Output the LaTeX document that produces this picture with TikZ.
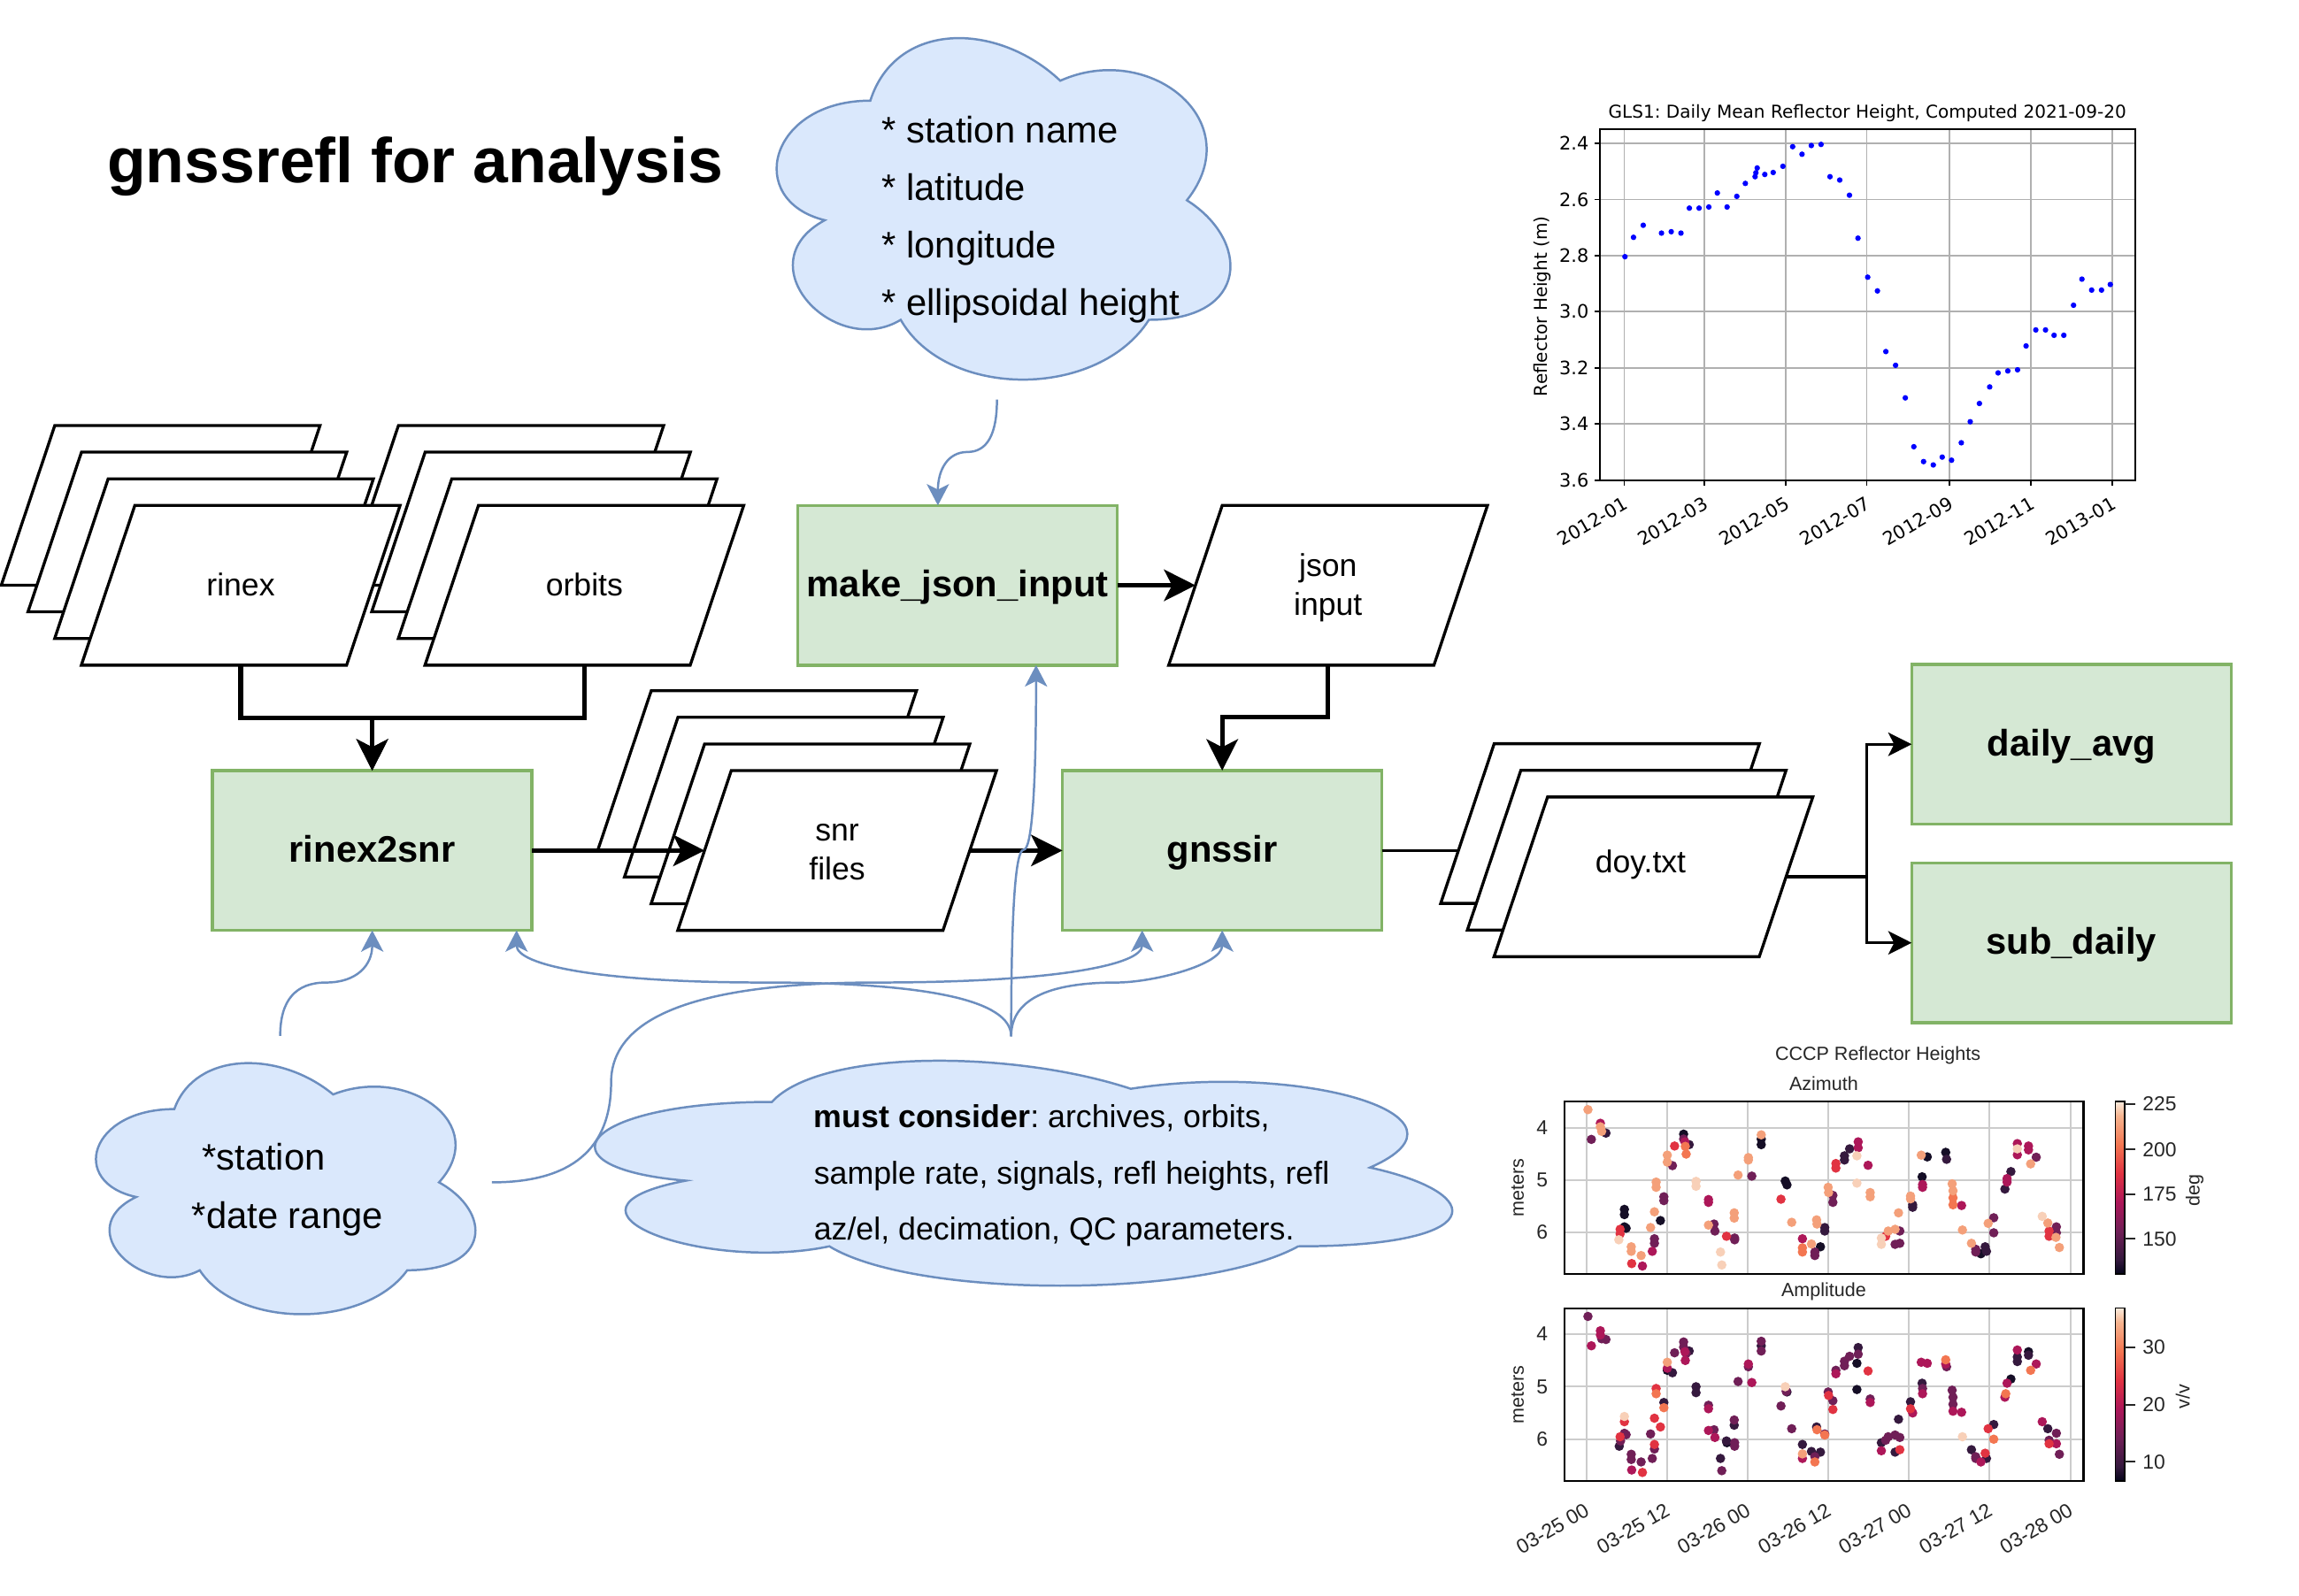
\documentclass[tikz,border=0pt]{standalone}
\usepackage{fontspec}
\setmainfont{Liberation Sans}
\newfontfamily\djv{DejaVu Sans}
\usetikzlibrary{arrows.meta}
\frenchspacing
\definecolor{gfill}{HTML}{D5E8D4}
\definecolor{gdraw}{HTML}{82B366}
\definecolor{bfill}{HTML}{DAE8FC}
\definecolor{bdraw}{HTML}{6C8EBF}
\definecolor{rk0}{HTML}{03051A}
\definecolor{rk1}{HTML}{35193E}
\definecolor{rk2}{HTML}{701F57}
\definecolor{rk3}{HTML}{AD1759}
\definecolor{rk4}{HTML}{E13342}
\definecolor{rk5}{HTML}{F37651}
\definecolor{rk6}{HTML}{F6B48F}
\definecolor{rk7}{HTML}{FAEBDD}
\definecolor{dL0}{HTML}{150E26}
\definecolor{dL1}{HTML}{35193E}
\definecolor{dL2}{HTML}{701F57}
\definecolor{dL3}{HTML}{AD1759}
\definecolor{dL4}{HTML}{E13342}
\definecolor{dL5}{HTML}{F37651}
\definecolor{dL6}{HTML}{F4A07A}
\definecolor{dL7}{HTML}{F8D0B8}
\definecolor{gridA}{HTML}{B0B0B0}
\definecolor{gridB}{HTML}{CCCCCC}
\definecolor{tickB}{HTML}{262626}
\pgfdeclareverticalshading{rocket}{100bp}{color(0bp)=(rk0); color(25bp)=(rk0); color(29.17bp)=(rk1); color(37.5bp)=(rk2); color(45.83bp)=(rk3); color(54.17bp)=(rk4); color(62.5bp)=(rk5); color(70.83bp)=(rk6); color(75bp)=(rk7); color(100bp)=(rk7)}
\newcommand\parashape[2]{\draw[para] (#1,#2) -- ++(181,0) -- ++(-36.5,109) -- ++(-181,0) -- cycle;}
\newcommand\mycloud[4]{%
\draw[cloudst] ({#1+0.25*#3},{#2+0.25*#4})
 .. controls ({#1+0.05*#3},{#2+0.25*#4}) and ({#1},{#2+0.5*#4}) .. ({#1+0.16*#3},{#2+0.55*#4})
 .. controls ({#1},{#2+0.66*#4}) and ({#1+0.18*#3},{#2+0.9*#4}) .. ({#1+0.31*#3},{#2+0.8*#4})
 .. controls ({#1+0.4*#3},{#2+#4}) and ({#1+0.7*#3},{#2+#4}) .. ({#1+0.8*#3},{#2+0.8*#4})
 .. controls ({#1+#3},{#2+0.8*#4}) and ({#1+#3},{#2+0.6*#4}) .. ({#1+0.875*#3},{#2+0.5*#4})
 .. controls ({#1+#3},{#2+0.3*#4}) and ({#1+0.8*#3},{#2+0.1*#4}) .. ({#1+0.625*#3},{#2+0.2*#4})
 .. controls ({#1+0.5*#3},{#2+0.05*#4}) and ({#1+0.3*#3},{#2+0.05*#4}) .. ({#1+0.25*#3},{#2+0.25*#4}) -- cycle;}
\newcommand\bdots[2]{\foreach \a/\b in {#2} {\fill[#1] ({1014.49+\a*0.29272},{706.52+\b*0.23878}) circle[radius=3.2];}}
\begin{document}
\begin{tikzpicture}[x=0.5pt,y=-0.5pt,
 para/.style={draw=black, fill=white, line width=1pt, line join=miter},
 proc/.style={draw=gdraw, fill=gfill, line width=1pt, minimum width=109pt, minimum height=54.5pt, inner sep=0pt, outer sep=0pt, text height=10.6pt, text depth=2.6pt, font=\bfseries\fontsize{12.6}{15}\selectfont},
 thk/.style={line width=1.6pt, line join=miter, -{Stealth[length=10.7pt,width=10.7pt,inset=2.7pt]}},
 thinline/.style={line width=1pt},
 thn/.style={line width=1pt, line join=miter, -{Stealth[length=8pt,width=8pt,inset=2pt]}},
 blu/.style={draw=bdraw, line width=0.75pt, -{Stealth[length=7.3pt,width=7.6pt,inset=1.9pt]}},
 cloudst/.style={draw=bdraw, fill=bfill, line width=0.75pt},
 lbl/.style={font=\fontsize{10.75}{13}\selectfont, inner sep=0pt, anchor=base},
 ctext/.style={font=\fontsize{12.6}{15}\selectfont, inner sep=0pt, anchor=base west},
 ctextb/.style={font=\fontsize{10.8}{13}\selectfont, inner sep=0pt, anchor=base west},
 ta/.style={font=\djv\fontsize{6.05}{7}\selectfont, inner sep=0pt},
 tat/.style={font=\djv\fontsize{6.3}{7.5}\selectfont, inner sep=0pt},
 tbl/.style={font=\fontsize{6.5}{8}\selectfont, inner sep=0pt, text=tickB},
 tbt/.style={font=\fontsize{6.9}{8}\selectfont, inner sep=0pt, text=tickB}
]
\useasboundingbox (0,0) rectangle (1568.8,1088.75);
\fill[white] (0,0) rectangle (1568.8,1088.75);

% ---------- title ----------
\node[anchor=base west, inner sep=0pt, font=\bfseries\fontsize{21.6}{26}\selectfont] (title) at (72.8,124.6) {gnssrefl for analysis};

% ---------- clouds ----------
\mycloud{507.5}{0.7}{345.6}{272}
\mycloud{46.7}{707}{289}{200}
\mycloud{363.5}{707.3}{653}{179.2}
\coordinate (c1S) at (680.3,272.7);
\coordinate (c2N) at (191.2,707);
\coordinate (c2E) at (335.7,807);
\coordinate (c3N) at (690,707.3);
\node[ctext] (cl1a) at (601.4,97.5) {* station name};
\node[ctext] (cl1b) at (601.4,136.8) {* latitude};
\node[ctext] (cl1c) at (601.4,176.1) {* longitude};
\node[ctext] (cl1d) at (601.4,215.4) {* ellipsoidal height};
\node[ctext] (cl2a) at (137.5,798.7) {*station};
\node[ctext] (cl2b) at (130.6,838.4) {*date range};
\node[ctextb] (cl3a) at (555,769.6) {\textbf{must consider}: archives, orbits,};
\node[ctextb] (cl3b) at (555,808.3) {sample rate, signals, refl heights, refl};
\node[ctextb] (cl3c) at (555,846) {az/el, decimation, QC parameters.};

% ---------- data stacks ----------
\parashape{271.9}{290.4}
\parashape{290.1}{308.6}
\parashape{308.3}{326.8}
\parashape{326.5}{345}
\parashape{37.4}{290.4}
\parashape{55.6}{308.6}
\parashape{73.8}{326.8}
\parashape{92}{345}
\parashape{444.4}{471.4}
\parashape{462.6}{489.6}
\parashape{480.8}{507.8}
\parashape{499}{526}
\parashape{834}{345}
\parashape{1019.6}{507.6}
\parashape{1037.8}{525.8}
\parashape{1056}{544}
\coordinate (rinexS) at (164.25,454);
\coordinate (orbitsS) at (398.75,454);
\coordinate (jsonW) at (815.75,399.5);
\coordinate (jsonS) at (906.25,454);
\coordinate (snrW) at (480.75,580.5);
\coordinate (snrE) at (661.75,580.5);
\coordinate (doyW) at (995.2,580.5);
\coordinate (doyE) at (1218.75,598.5);
\node[lbl] (rinexT) at (164.25,406.5) {rinex};
\node[lbl] (orbitsT) at (398.75,406.5) {orbits};
\node[lbl] (jsonT1) at (906.25,393.2) {json};
\node[lbl] (jsonT2) at (906.25,419.7) {input};
\node[lbl] (snrT1) at (571.25,574.25) {snr};
\node[lbl] (snrT2) at (571.25,600.75) {files};
\node[lbl] (doyT) at (1119.5,595.4) {doy.txt};

% ---------- process boxes ----------
\node[proc] (r2s) at (254,580.5) {rinex2snr};
\node[proc] (mji) at (653.5,399.5) {make\_json\_input};
\node[proc] (gns) at (834,580.5) {gnssir};
\node[proc] (davg) at (1413.5,508) {daily\_avg};
\node[proc] (sdly) at (1413.5,643.5) {sub\_daily};

% ---------- black connectors ----------
\coordinate (jr) at (254,490);
\coordinate (jg) at (834,489.5);
\coordinate (jd) at (1273.6,598.5);
\draw[thk] (rinexS) |- (jr) -- (r2s.north);
\draw[thk] (orbitsS) |- (jr) -- (r2s.north);
\draw[thk] (mji.east) -- (jsonW);
\draw[thk] (jsonS) |- (jg) -- (gns.north);
\draw[thk] (r2s.east) -- (snrW);
\draw[thk] (snrE) -- (gns.west);
\draw[thinline] (gns.east) -- (doyW);
\draw[thn] (doyE) -- (jd) |- (davg.west);
\draw[thn] (doyE) -- (jd) |- (sdly.west);

% ---------- blue connectors ----------
\draw[blu] (c1S) .. controls (680.3,296.57) and (673.58,308.5) .. (660.15,308.5) .. controls (646.72,308.5) and (640,320.67) .. ([xshift=-6.75pt]mji.north);
\draw[blu] (c2N) .. controls (191.2,682.73) and (201.67,670.6) .. (222.6,670.6) .. controls (243.53,670.6) and (254,658.73) .. (r2s.south);
\draw[blu] (c3N) .. controls (690,682.83) and (633.75,670.6) .. (521.25,670.6) .. controls (408.75,670.6) and (352.5,658.73) .. ([xshift=49.25pt]r2s.south);
\draw[blu] (c2E) .. controls (389.9,807) and (417,784.27) .. (417,738.8) .. controls (417,693.33) and (477.4,670.6) .. (598.2,670.6) .. controls (719,670.6) and (779.4,658.73) .. ([xshift=-27.3pt]gns.south);
\draw[blu] (c3N) .. controls (690,682.83) and (714,670.6) .. (762,670.6) .. controls (786,670.6) and (834,658.73) .. (gns.south);
\draw[blu] (c3N) .. controls (690,622.4) and (692.83,580) .. (698.5,580) .. controls (704.17,580) and (707,538) .. ([xshift=26.75pt]mji.south);

% ---------- top-right plot (GLS1) ----------
\foreach \d in {0,60,121,182,244,305,366} {\draw[gridA,line width=0.55pt] ({1108.3+\d*0.9096},88.3) -- ({1108.3+\d*0.9096},328);}
\foreach \v in {2.4,2.6,2.8,3.0,3.2,3.4,3.6} {\draw[gridA,line width=0.55pt] (1091.8,{97.8+(\v-2.4)*191.58}) -- (1457,{97.8+(\v-2.4)*191.58});}
\foreach \d/\v in {0.6/2.804, 7/2.735, 14.3/2.692, 28/2.72, 35.3/2.715, 42.6/2.72, 48.9/2.631, 56.2/2.631, 63.5/2.627, 69.9/2.577, 77.2/2.627, 84.5/2.589, 90.9/2.543, 98.2/2.519, 98.8/2.505, 99.8/2.488, 105.5/2.511, 111.8/2.504, 119.1/2.482, 126.4/2.412, 133.4/2.439, 140.4/2.408, 147.7/2.404, 154.4/2.519, 161.7/2.531, 169/2.585, 175.4/2.738, 182.7/2.877, 190/2.926, 196.3/3.142, 203.6/3.191, 210.9/3.307, 217.3/3.481, 224.6/3.534, 231.9/3.546, 238.6/3.518, 245.6/3.529, 252.9/3.467, 259.6/3.392, 266.5/3.327, 274.2/3.268, 280.5/3.218, 287.8/3.211, 295.1/3.207, 301.5/3.122, 308.8/3.065, 316.1/3.065, 322.5/3.084, 329.8/3.084, 337.1/2.977, 343.4/2.884, 350.7/2.923, 358.1/2.923, 364.7/2.903}
 {\fill[blue] ({1108.3+\d*0.9096},{97.8+(\v-2.4)*191.58}) circle[radius=1.9];}
\draw[black,line width=0.6pt] (1091.8,88.3) rectangle (1457,328);
\foreach \d/\t [count=\i] in {0/2012-01,60/2012-03,121/2012-05,182/2012-07,244/2012-09,305/2012-11,366/2013-01} {
 \draw[black,line width=0.5pt] ({1108.3+\d*0.9096},328) -- ({1108.3+\d*0.9096},331.5);
 \node[tat,rotate=30,anchor=north east] (pxt\i) at ({1108.3+\d*0.9096-1},338) {\t};}
\foreach \v [count=\i] in {2.4,2.6,2.8,3.0,3.2,3.4,3.6} {
 \draw[black,line width=0.5pt] (1091.8,{97.8+(\v-2.4)*191.58}) -- (1088.3,{97.8+(\v-2.4)*191.58});
 \node[tat,anchor=east] (pyt\i) at (1084.5,{97.8+(\v-2.4)*191.58}) {\v};}
\node[ta,anchor=base] (ptitle) at (1274.3,80.8) {GLS1: Daily Mean Reflector Height, Computed 2021-09-20};
\node[ta,rotate=90] (pylab) at (1052.5,209) {Reflector Height (m)};

% ---------- bottom-right plot (CCCP) ----------
\foreach \k in {0,...,6} {
 \draw[gridB,line width=0.6pt] ({1082.7+55*\k},751.9) -- ({1082.7+55*\k},869.6);
 \draw[gridB,line width=0.6pt] ({1082.7+55*\k},893) -- ({1082.7+55*\k},1010.7);}
\foreach \y in {769.8,805.4,841.0} {\draw[gridB,line width=0.6pt] (1067.4,\y) -- (1421.7,\y);}
\foreach \y in {910.6,946.5,982.3} {\draw[gridB,line width=0.6pt] (1067.4,\y) -- (1421.7,\y);}
% azimuth panel
\bdots{dL0}{321/498,321/513,321/548,325/552,405/530,459/283,640/297,640/313,696/417,700/428,778/605,1015/405,1027/348,1070/335,1152/625}
\bdots{dL1}{278/280,472/313,788/550,788/560,834/345,834/357,846/325,993/485,993/492,1072/355,1162/605,1165/618,1208/440,1222/390}
\bdots{dL2}{244/298,391/582,391/595,413/462,413/473,433/373,459/297,530/540,532/560,578/580,578/585,618/403,765/620,765/630,807/458,807/478,952/598,963/560,963/595,1140/612,1140/620,1182/522,1182/565,1281/349,1328/548,1328/565}
\bdots{dL3}{265/252,363/660,386/618,462/305,517/470,517/478,736/582,866/305,866/322,889/372,1016/427,1016/435,1107/487,1213/410,1213/420,1237/310,1237/342,1263/317,1263/328}
\bdots{dL4}{311/555,311/568,338/653,438/317,559/575,686/469,814/367,814/380,930/575,1311/560,1311/575}
\bdots{dL5}{463/318,465/340,736/608,736/620,1087/465,1087/485}
\bdots{dL6}{236/213,265/262,268/275,337/605,337/618,360/630,382/550,391/505,395/420,395/435,421/343,421/363,517/543,577/508,577/523,586/400,610/350,610/357,640/285,711/535,757/597,769/528,770/540,796/435,797/450,894/450,894/462,936/560,952/555,960/508,988/460,988/468,1013/343,1085/425,1087/445,1109/557,1130/595,1169/538,1268/368,1308/537,1335/607,1327/578}
\bdots{dL7}{308/585,488/418,488/432,545/620,548/657,863/345,863/423,920/580,920/598,1237/325,1295/518}
% amplitude panel
\bdots{dL0}{421/958,560/1165,863/1013,863/938,1222/983,1263/905}
\bdots{dL1}{309/1175,413/1050,433/965,472/903,488/1005,488/1022,545/1210,559/1160,577/1115,640/888,700/1020,736/1170,757/1190,778/1192,769/1120,866/893,920/1165,952/1192,960/1098,988/1048,1015/995,1130/1185,1165/1210,1182/1113,1237/920,1237/933,1263/915,1308/1125}
\bdots{dL2}{236/804,268/868,278/870,312/1160,321/1138,325/1142,337/1198,337/1213,360/1220,382/1140,386/1210,391/1183,438/908,459/877,459/892,465/910,517/1058,530/1128,548/1245,577/1100,578/1165,578/1175,586/990,610/948,640/875,640/903,686/1060,698/1018,711/1125,765/1205,788/1140,796/1020,807/1045,814/958,834/932,834/945,846/918,866/912,894/1040,930/1158,936/1148,952/1143,963/1150,1016/1010,1072/948,1085/1015,1087/1035,1087/1055,1140/1205,1140/1210,1311/1158,1328/1138,1335/1198}
\bdots{dL3}{244/888,265/845,265/857,338/1243,421/952,462/905,463/930,517/1068,517/1130,532/1150,610/940,618/993,736/1210,814/968,894/1050,920/1188,993/1080,1013/935,1016/1025,1027/938,1070/940,1087/1075,1107/1078,1152/1220,1208/1035,1213/995,1237/900,1281/940,1295/1105,1328/1168}
\bdots{dL4}{311/1148,321/1105,363/1250,391/1170,391/1095,395/1010,405/1120,797/1030,807/1070,889/960,963/1185,988/1068,1162/1195,1169/1125,1311/1168}
\bdots{dL5}{395/1025,413/1065,765/1220,770/1128,788/1143,1070/928,1182/1155,1210/1025,1268/958}
\bdots{dL6}{421/935,736/1197}
\bdots{dL7}{321/1090,696/1005,1109/1148}
\draw[black,line width=0.7pt] (1067.4,751.9) rectangle (1421.7,869.6);
\draw[black,line width=0.7pt] (1067.4,893) rectangle (1421.7,1010.7);
% colorbars
\shade[shading=rocket] (1443.5,751.9) rectangle (1449.7,869.6);
\draw[black,line width=0.5pt] (1443.5,751.9) rectangle (1449.7,869.6);
\shade[shading=rocket] (1443.5,892.7) rectangle (1449.7,1010.9);
\draw[black,line width=0.5pt] (1443.5,892.7) rectangle (1449.7,1010.9);
\foreach \y/\t [count=\i] in {753.6/225,784.6/200,815.2/175,845.5/150} {
 \draw[tickB,line width=0.6pt] (1449.7,\y) -- (1456.9,\y);
 \node[tbt,anchor=west] (cba\i) at (1461.8,\y) {\t};}
\foreach \y/\t [count=\i] in {919.5/30,958.7/20,997.8/10} {
 \draw[tickB,line width=0.6pt] (1449.7,\y) -- (1456.9,\y);
 \node[tbt,anchor=west] (cbb\i) at (1461.8,\y) {\t};}
\node[tbl,rotate=90] (cblA) at (1497.6,812.2) {deg};
\node[tbl,rotate=90] (cblB) at (1489.5,953.1) {v/v};
% axis labels
\foreach \y/\t [count=\i] in {769.8/4,805.4/5,841.0/6} {\node[tbt,anchor=east] (bya\i) at (1056.5,\y) {\t};}
\foreach \y/\t [count=\i] in {910.6/4,946.5/5,982.3/6} {\node[tbt,anchor=east] (byb\i) at (1056.5,\y) {\t};}
\node[tbl,rotate=90] (bylA) at (1035.6,810.75) {meters};
\node[tbl,rotate=90] (bylB) at (1035.6,951.85) {meters};
\foreach \t [count=\i from 0] in {03-25 00,03-25 12,03-26 00,03-26 12,03-27 00,03-27 12,03-28 00} {
 \node[tbt,rotate=30,anchor=north east] (bxt\i) at ({1082.7+55*\i-2},1025) {\t};}
\node[tbl,anchor=base] (btitle) at (1281.4,723.7) {CCCP Reflector Heights};
\node[tbl,anchor=base] (bsubA) at (1244.5,744.2) {Azimuth};
\node[tbl,anchor=base] (bsubB) at (1244.5,885.1) {Amplitude};
\end{tikzpicture}
\end{document}
